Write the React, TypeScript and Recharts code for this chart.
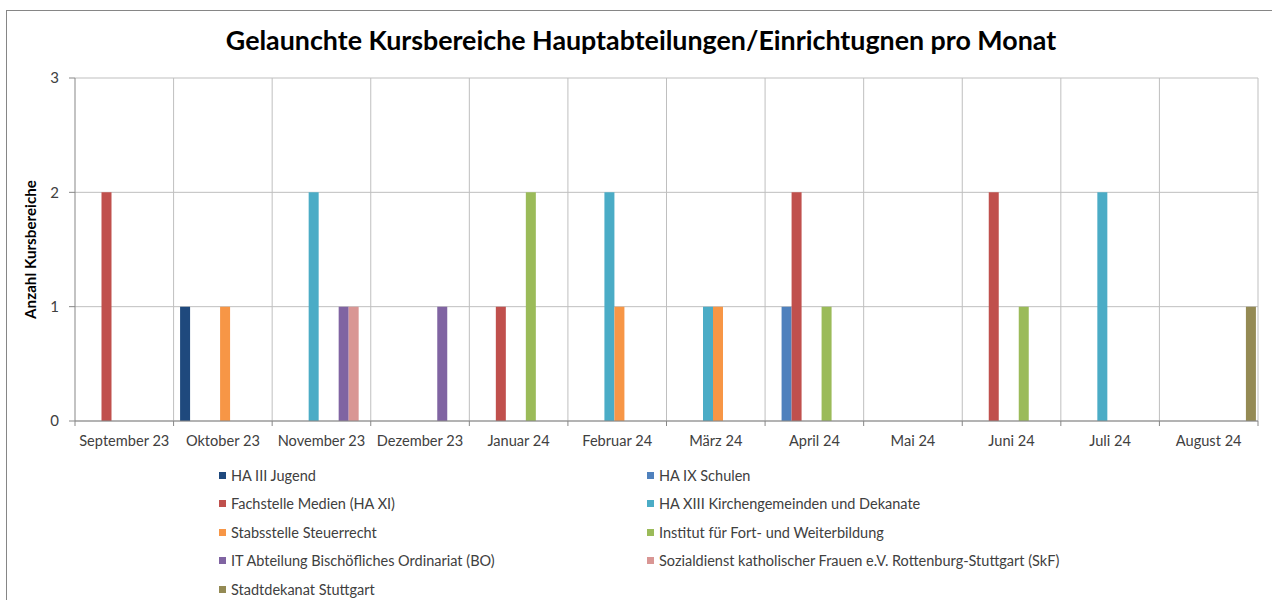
import React from 'react';
import { BarChart, Bar, XAxis, YAxis, CartesianGrid, Label } from 'recharts';

const months = [
  'September 23', 'Oktober 23', 'November 23', 'Dezember 23', 'Januar 24', 'Februar 24',
  'März 24', 'April 24', 'Mai 24', 'Juni 24', 'Juli 24', 'August 24',
];

const seriesNames = [
  'HA III Jugend',
  'HA IX Schulen',
  'Fachstelle Medien (HA XI)',
  'HA XIII Kirchengemeinden und Dekanate',
  'Stabsstelle Steuerrecht',
  'Institut für Fort- und Weiterbildung',
  'IT Abteilung Bischöfliches Ordinariat (BO)',
  'Sozialdienst katholischer Frauen e.V. Rottenburg-Stuttgart (SkF)',
  'Stadtdekanat Stuttgart',
];

const seriesColors = ['#1F497D', '#4F81BD', '#C0504D', '#4BACC6', '#F79646', '#9BBB59', '#8064A2', '#D99694', '#948A54'];

// one array per series, Sep 23 .. Aug 24
const haIII = [0, 1, 0, 0, 0, 0, 0, 0, 0, 0, 0, 0];
const haIX = [0, 0, 0, 0, 0, 0, 0, 1, 0, 0, 0, 0];
const fachstelle = [2, 0, 0, 0, 1, 0, 0, 2, 0, 2, 0, 0];
const haXIII = [0, 0, 2, 0, 0, 2, 1, 0, 0, 0, 2, 0];
const stabsstelle = [0, 1, 0, 0, 0, 1, 1, 0, 0, 0, 0, 0];
const institut = [0, 0, 0, 0, 2, 0, 0, 1, 0, 1, 0, 0];
const itAbteilung = [0, 0, 1, 1, 0, 0, 0, 0, 0, 0, 0, 0];
const skf = [0, 0, 1, 0, 0, 0, 0, 0, 0, 0, 0, 0];
const stadtdekanat = [0, 0, 0, 0, 0, 0, 0, 0, 0, 0, 0, 1];

const yTicks = [0, 1, 2, 3];

const seriesValues = [haIII, haIX, fachstelle, haXIII, stabsstelle, institut, itAbteilung, skf, stadtdekanat];
const keys = seriesNames.map((_, i) => `s${i}`);

const data = months.map((m, i) => {
  const row: Record<string, string | number> = { month: m };
  seriesValues.forEach((vals, s) => {
    row[keys[s]] = vals[i];
  });
  return row;
});

const W = 1272;
const H = 600;
const margin = { top: 78, right: 14, left: 20, bottom: 149 };
const yAxisWidth = 55;
const plotLeft = margin.left + yAxisWidth;
const plotWidth = W - margin.right - plotLeft;
const band = plotWidth / months.length;
const font = 'Lato, "Noto Sans", sans-serif';
const gridColor = '#BFBFBF';
const axisColor = '#878787';

const MonthTick = (props: any) => {
  const { x, y, payload, index } = props;
  const axisY = y - 14;
  return (
    <g>
      <line x1={x + band / 2} x2={x + band / 2} y1={axisY} y2={axisY + 5} stroke={axisColor} />
      {index === 0 && <line x1={x - band / 2} x2={x - band / 2} y1={axisY} y2={axisY + 5} stroke={axisColor} />}
      <text x={x} y={y} dy="0.75em" textAnchor="middle" fontSize={14.6} fill="#404040" fontFamily={font}>
        {payload.value}
      </text>
    </g>
  );
};

const App: React.FC = () => {
  return (
    <div style={{ position: 'absolute', left: 0, top: 0, width: W, height: H, background: '#fff', overflow: 'hidden', fontFamily: font }}>
      <div style={{ position: 'absolute', left: 6, top: 10, width: W, height: H, border: '1px solid #868686' }} />
      <div style={{ position: 'absolute', left: 6, top: 24, width: 1270, textAlign: 'center', fontSize: 26.8, fontWeight: 700, color: '#000' }}>
        Gelaunchte Kursbereiche Hauptabteilungen/Einrichtugnen pro Monat
      </div>
      <div style={{ position: 'absolute', left: 0, top: 0 }}>
        <BarChart width={W} height={H} data={data} margin={margin} barCategoryGap={6.5} barGap={0}>
          <CartesianGrid
            stroke={gridColor}
            verticalCoordinatesGenerator={({ offset }: any) =>
              months.map((_, i) => offset.left + ((i + 1) * offset.width) / months.length)
            }
          />
          <XAxis
            dataKey="month"
            interval={0}
            height={30}
            stroke={axisColor}
            tickLine={false}
            tickSize={0}
            tickMargin={14}
            tick={<MonthTick />}
          />
          <YAxis
            width={yAxisWidth}
            domain={[0, 3]}
            ticks={yTicks}
            allowDecimals={false}
            stroke={axisColor}
            tickSize={6}
            tickMargin={10}
            tick={{ fontSize: 15, fill: '#404040', fontFamily: font }}
          >
            <Label
              value="Anzahl Kursbereiche"
              angle={-90}
              position="insideLeft"
              offset={11}
              style={{ textAnchor: 'middle', fontSize: 15.2, fontWeight: 700, fill: '#000', fontFamily: font }}
            />
          </YAxis>
          {keys.map((k, i) => (
            <Bar key={k} dataKey={k} name={seriesNames[i]} fill={seriesColors[i]} isAnimationActive={false} />
          ))}
        </BarChart>
      </div>
      {seriesNames.map((name, i) => (
        <div
          key={name}
          style={{
            position: 'absolute',
            left: i % 2 === 0 ? 219 : 647,
            top: 465 + Math.floor(i / 2) * 28.5,
            height: 20,
            display: 'flex',
            alignItems: 'center',
            fontSize: 14.5,
            color: '#404040',
            whiteSpace: 'nowrap',
          }}
        >
          <span style={{ display: 'inline-block', width: 7, height: 7, background: seriesColors[i], marginRight: 5 }} />
          {name}
        </div>
      ))}
    </div>
  );
};

export default App;
